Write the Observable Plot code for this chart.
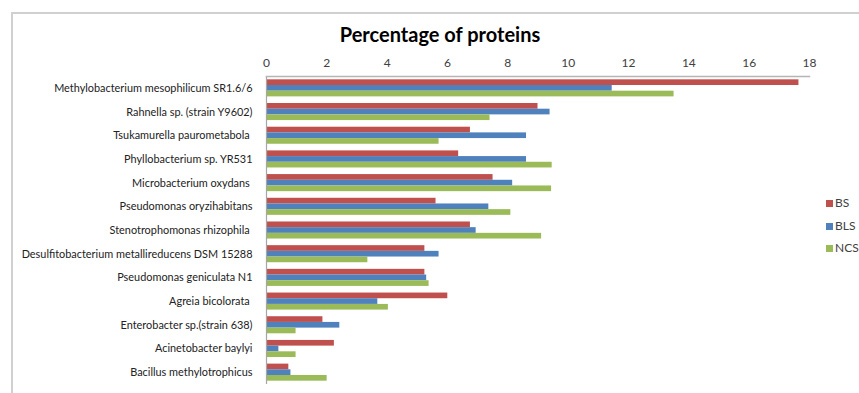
<!DOCTYPE html>
<html><head><meta charset="utf-8">
<script src="https://cdn.jsdelivr.net/npm/d3@7"></script>
<script src="https://cdn.jsdelivr.net/npm/@observablehq/plot@0.6"></script>
<style>
body{margin:0;background:#fff;font-family:Lato,sans-serif;}
#wrap{position:relative;width:859px;height:393px;overflow:hidden;background:#fff;}
#border{position:absolute;left:11px;top:12px;width:900px;height:500px;border:2px solid #d0d0d0;box-sizing:border-box;}
#title{position:absolute;left:0;width:880px;text-align:center;top:22px;font-weight:bold;font-size:20px;color:#000;}
#chart{position:absolute;left:0;top:0;}
#legend{position:absolute;left:826px;top:196px;font-size:12px;color:#404040;}
#legend div{height:22.5px;line-height:14px;white-space:nowrap;}
#legend span.sw{display:inline-block;width:7px;height:7px;margin-right:2px;vertical-align:0px;}
</style></head>
<body>
<div id="wrap">
  <div id="border"></div>
  <div id="chart"></div>
  <div id="title">Percentage of proteins</div>
  <div id="legend"></div>
</div>
<script>
const categories = [
  "Methylobacterium mesophilicum SR1.6/6",
  "Rahnella sp. (strain Y9602)",
  "Tsukamurella paurometabola ",
  "Phyllobacterium sp. YR531",
  "Microbacterium oxydans ",
  "Pseudomonas oryzihabitans",
  "Stenotrophomonas rhizophila ",
  "Desulfitobacterium metallireducens DSM 15288",
  "Pseudomonas geniculata N1",
  "Agreia bicolorata ",
  "Enterobacter sp.(strain 638)",
  "Acinetobacter baylyi",
  "Bacillus methylotrophicus"
];
const seriesNames = ["BS", "BLS", "NCS"];
const seriesColors = ["#C0504D", "#4F81BD", "#9BBB59"];
const bs  = [17.65, 9.00, 6.76, 6.37, 7.51, 5.62, 6.76, 5.25, 5.25, 6.01, 1.87, 2.25, 0.74];
const bls = [11.46, 9.40, 8.62, 8.62, 8.16, 7.37, 6.95, 5.72, 5.31, 3.69, 2.43, 0.41, 0.81];
const ncs = [13.51, 7.41, 5.72, 9.47, 9.45, 8.10, 9.12, 3.36, 5.39, 4.04, 0.98, 0.98, 2.01];
const xTicks = [0, 2, 4, 6, 8, 10, 12, 14, 16, 18];

const rows = categories.map((name, i) => ({name, bs: bs[i], bls: bls[i], ncs: ncs[i]}));

const width = 859, height = 393, mt = 76, mb = 9;
const padIn = 0.28, padOut = 0.14;
const step = (height - mt - mb) / (categories.length - padIn + 2 * padOut);
const t = step * (1 - padIn) / 3;
const keys = ["bs", "bls", "ncs"];

const plot = Plot.plot({
  width, height,
  marginTop: mt, marginBottom: mb, marginLeft: 266, marginRight: 50,
  x: {domain: [0, 18]},
  y: {domain: categories, paddingInner: padIn, paddingOuter: padOut, round: false},
  style: {fontFamily: "Lato, sans-serif", background: "transparent", color: "#333"},
  marks: [
    ...keys.map((k, j) => Plot.barX(rows, {
      x: k, y: "name", fill: seriesColors[j],
      insetTop: j * t, insetBottom: (2 - j) * t
    })),
    Plot.ruleX([0], {stroke: "#a6a6a6", strokeWidth: 1.2}),
    Plot.frame({anchor: "top", stroke: "#b5b5b5", strokeWidth: 1.5}),
    Plot.axisX({anchor: "top", ticks: xTicks, tickSize: 0, tickPadding: 10, fontSize: 12, label: null, color: "#404040"}),
    Plot.axisY({tickSize: 0, tickPadding: 14, fontSize: 10.9, label: null, color: "#222"})
  ]
});
document.getElementById("chart").appendChild(plot);

const legend = document.getElementById("legend");
seriesNames.forEach((s, j) => {
  const d = document.createElement("div");
  d.innerHTML = `<span class="sw" style="background:${seriesColors[j]}"></span>${s}`;
  legend.appendChild(d);
});
</script>
</body></html>
